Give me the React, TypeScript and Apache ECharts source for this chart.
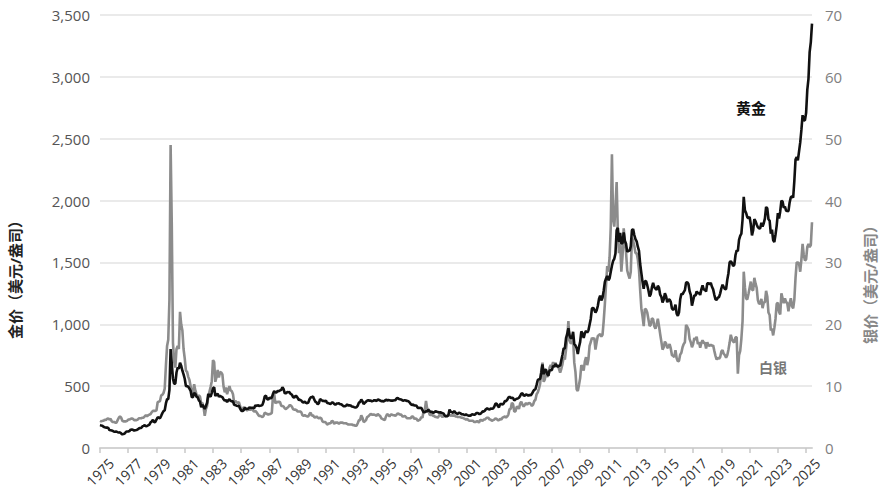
import React, { useEffect, useRef } from "react";
import * as echarts from "echarts";

// Monthly values starting Jan 1975 (USD per ounce)
const startYear = 1975;
const goldMonthly: number[] = [
  // 1975
  185, 182, 180, 172, 168, 165, 165, 162, 145, 143, 141, 138,
  // 1976
  131, 132, 132, 128, 126, 125, 118, 110, 114, 117, 130, 134,
  // 1977
  133, 137, 148, 149, 147, 141, 144, 145, 150, 158, 162, 162,
  // 1978
  174, 179, 185, 176, 178, 184, 189, 207, 214, 229, 208, 210,
  // 1979
  230, 248, 244, 241, 260, 282, 298, 305, 360, 395, 395, 470,
  // 1980
  800, 680, 560, 520, 520, 610, 650, 640, 690, 665, 625, 595,
  // 1981
  560, 500, 500, 495, 480, 462, 410, 412, 445, 438, 414, 410,
  // 1982
  385, 374, 330, 350, 334, 315, 340, 366, 437, 422, 415, 446,
  // 1983
  482, 492, 420, 432, 438, 413, 422, 416, 411, 394, 382, 388,
  // 1984
  371, 386, 394, 381, 377, 378, 348, 348, 341, 340, 341, 320,
  // 1985
  303, 299, 304, 325, 316, 317, 317, 330, 323, 326, 325, 321,
  // 1986
  345, 339, 346, 340, 342, 343, 348, 376, 418, 423, 395, 391,
  // 1987
  408, 401, 408, 438, 460, 450, 450, 461, 460, 465, 470, 490,
  // 1988
  477, 442, 443, 452, 451, 452, 437, 432, 413, 406, 420, 419,
  // 1989
  404, 388, 390, 384, 371, 367, 375, 365, 362, 367, 394, 409,
  // 1990
  410, 417, 393, 374, 369, 352, 362, 395, 389, 381, 381, 378,
  // 1991
  383, 364, 363, 358, 357, 367, 368, 356, 349, 359, 360, 361,
  // 1992
  354, 354, 345, 338, 337, 341, 353, 343, 345, 344, 335, 334,
  // 1993
  330, 328, 330, 342, 367, 372, 392, 378, 355, 365, 374, 383,
  // 1994
  387, 382, 384, 377, 381, 386, 385, 380, 391, 389, 384, 379,
  // 1995
  379, 377, 382, 391, 385, 387, 386, 383, 383, 383, 386, 387,
  // 1996
  400, 405, 396, 393, 392, 385, 383, 387, 383, 381, 378, 369,
  // 1997
  355, 347, 352, 344, 344, 341, 324, 324, 323, 325, 306, 289,
  // 1998
  289, 297, 296, 308, 299, 292, 293, 284, 289, 296, 294, 291,
  // 1999
  287, 288, 286, 282, 277, 262, 256, 257, 265, 311, 293, 290,
  // 2000
  284, 300, 286, 280, 275, 286, 282, 274, 273, 270, 266, 272,
  // 2001
  266, 262, 263, 261, 272, 270, 268, 273, 283, 283, 276, 276,
  // 2002
  282, 296, 294, 302, 314, 322, 314, 310, 319, 317, 319, 333,
  // 2003
  357, 359, 340, 329, 355, 356, 351, 360, 379, 379, 389, 407,
  // 2004
  414, 405, 406, 404, 384, 392, 398, 400, 406, 420, 439, 442,
  // 2005
  424, 423, 434, 429, 422, 431, 424, 438, 456, 470, 476, 510,
  // 2006
  550, 555, 557, 610, 676, 596, 633, 632, 598, 585, 627, 629,
  // 2007
  631, 665, 655, 679, 667, 655, 665, 665, 712, 754, 806, 803,
  // 2008
  889, 922, 968, 909, 888, 889, 939, 839, 829, 806, 760, 816,
  // 2009
  858, 943, 924, 890, 928, 946, 934, 949, 996, 1043, 1127, 1134,
  // 2010
  1118, 1095, 1113, 1148, 1205, 1232, 1193, 1215, 1271, 1343, 1370, 1391,
  // 2011
  1356, 1372, 1424, 1474, 1512, 1529, 1572, 1759, 1780, 1665, 1739, 1652,
  // 2012
  1656, 1742, 1673, 1650, 1585, 1596, 1594, 1630, 1760, 1770, 1721, 1688,
  // 2013
  1671, 1627, 1593, 1487, 1414, 1343, 1286, 1347, 1349, 1316, 1275, 1225,
  // 2014
  1244, 1300, 1336, 1299, 1287, 1279, 1311, 1296, 1239, 1222, 1176, 1200,
  // 2015
  1251, 1227, 1178, 1198, 1199, 1181, 1128, 1117, 1125, 1159, 1086, 1068,
  // 2016
  1097, 1200, 1246, 1242, 1260, 1276, 1337, 1341, 1326, 1267, 1238, 1151,
  // 2017
  1192, 1234, 1231, 1266, 1246, 1260, 1236, 1283, 1315, 1280, 1282, 1265,
  // 2018
  1331, 1331, 1325, 1335, 1303, 1282, 1238, 1202, 1198, 1215, 1220, 1250,
  // 2019
  1291, 1320, 1300, 1285, 1284, 1359, 1413, 1500, 1510, 1495, 1471, 1480,
  // 2020
  1560, 1597, 1591, 1683, 1715, 1732, 1847, 2030, 1921, 1900, 1866, 1858,
  // 2021
  1867, 1808, 1718, 1760, 1850, 1834, 1807, 1785, 1775, 1777, 1820, 1790,
  // 2022
  1817, 1856, 1948, 1937, 1849, 1837, 1732, 1764, 1681, 1664, 1726, 1798,
  // 2023
  1898, 1855, 1912, 1999, 1992, 1942, 1951, 1918, 1916, 1915, 1985, 2027,
  // 2024
  2034, 2023, 2159, 2331, 2351, 2326, 2398, 2470, 2571, 2690, 2650, 2648,
  // 2025
  2709, 2895, 2983, 3200, 3280, 3430,
];

const silverMonthly: number[] = [
  // 1975
  4.4, 4.3, 4.4, 4.4, 4.6, 4.5, 4.7, 4.8, 4.6, 4.7, 4.3, 4.2,
  // 1976
  4.2, 4.1, 4.1, 4.5, 4.9, 5.1, 4.9, 4.4, 4.3, 4.3, 4.3, 4.4,
  // 1977
  4.6, 4.6, 4.7, 4.8, 4.7, 4.5, 4.5, 4.5, 4.6, 4.8, 4.8, 4.8,
  // 1978
  4.9, 4.9, 5.1, 5.3, 5.1, 5.3, 5.4, 5.5, 5.8, 6.0, 6.0, 6.0,
  // 1979
  6.1, 7.4, 7.5, 7.6, 8.5, 8.6, 8.9, 9.6, 13.3, 16.5, 17.5, 24.0,
  // 1980
  49.0, 36.0, 17.0, 14.0, 13.0, 16.0, 16.5, 16.0, 22.0, 20.0, 19.0, 16.0,
  // 1981
  14.5, 12.5, 12.3, 11.5, 11.0, 10.0, 8.6, 9.0, 10.3, 9.3, 8.7, 8.3,
  // 1982
  8.5, 8.3, 7.2, 7.3, 6.6, 5.2, 6.3, 6.8, 8.3, 9.1, 9.9, 10.8,
  // 1983
  14.2, 13.9, 10.7, 11.5, 12.6, 11.4, 12.3, 12.2, 11.9, 9.9, 9.0, 9.8,
  // 1984
  8.7, 9.4, 10.0, 9.3, 9.2, 8.7, 7.3, 7.6, 7.4, 7.3, 7.4, 6.8,
  // 1985
  6.2, 5.9, 6.6, 6.5, 6.2, 6.1, 6.2, 6.2, 6.2, 6.3, 6.1, 5.9,
  // 1986
  6.0, 5.8, 5.5, 5.2, 5.2, 5.1, 5.0, 5.2, 5.7, 5.6, 5.5, 5.4,
  // 1987
  5.5, 5.5, 5.7, 8.5, 8.8, 7.2, 7.5, 7.4, 7.5, 7.4, 6.8, 6.8,
  // 1988
  6.7, 6.4, 6.3, 6.5, 6.6, 6.9, 6.9, 6.7, 6.3, 6.2, 6.2, 6.1,
  // 1989
  5.9, 5.9, 5.9, 5.8, 5.3, 5.2, 5.3, 5.2, 5.1, 5.1, 5.5, 5.7,
  // 1990
  5.2, 5.3, 5.0, 4.9, 5.1, 4.9, 4.8, 4.9, 4.8, 4.3, 4.2, 4.2,
  // 1991
  4.1, 3.8, 3.9, 4.0, 4.0, 4.4, 4.3, 3.9, 4.1, 4.1, 4.1, 3.9,
  // 1992
  4.1, 4.1, 4.1, 4.0, 4.0, 4.0, 3.9, 3.8, 3.8, 3.8, 3.8, 3.7,
  // 1993
  3.7, 3.6, 3.6, 4.0, 4.5, 4.5, 5.3, 4.9, 4.2, 4.3, 4.5, 5.0,
  // 1994
  5.1, 5.3, 5.5, 5.4, 5.4, 5.4, 5.3, 5.2, 5.5, 5.3, 5.2, 4.8,
  // 1995
  4.7, 4.6, 4.5, 5.1, 5.5, 5.3, 5.1, 5.4, 5.4, 5.3, 5.3, 5.2,
  // 1996
  5.4, 5.6, 5.5, 5.4, 5.4, 5.1, 5.1, 5.2, 5.0, 4.8, 4.8, 4.8,
  // 1997
  4.8, 5.1, 5.1, 4.7, 4.8, 4.7, 4.4, 4.5, 4.6, 5.0, 4.9, 6.0,
  // 1998
  6.1, 7.6, 6.3, 6.3, 5.4, 5.3, 5.5, 5.2, 5.2, 5.0, 5.0, 4.9,
  // 1999
  5.2, 5.5, 5.2, 5.0, 5.2, 5.1, 5.2, 5.2, 5.3, 5.4, 5.2, 5.3,
  // 2000
  5.2, 5.3, 5.1, 5.1, 5.0, 5.0, 5.0, 4.9, 4.9, 4.8, 4.7, 4.6,
  // 2001
  4.7, 4.5, 4.4, 4.4, 4.4, 4.4, 4.2, 4.2, 4.3, 4.3, 4.1, 4.5,
  // 2002
  4.5, 4.4, 4.6, 4.6, 4.8, 4.9, 4.9, 4.6, 4.6, 4.4, 4.5, 4.6,
  // 2003
  4.8, 4.7, 4.5, 4.5, 4.7, 4.6, 4.9, 5.0, 5.1, 4.9, 5.1, 5.4,
  // 2004
  6.3, 6.3, 7.3, 7.1, 5.9, 5.9, 6.6, 6.7, 6.3, 7.2, 7.5, 7.0,
  // 2005
  6.7, 7.0, 7.3, 7.0, 7.2, 7.3, 7.1, 6.8, 7.0, 7.6, 7.8, 8.7,
  // 2006
  9.0, 9.6, 10.4, 12.6, 13.8, 10.7, 11.1, 12.3, 11.5, 11.8, 13.0, 13.4,
  // 2007
  13.2, 13.9, 13.3, 13.8, 13.3, 13.3, 12.8, 12.2, 12.8, 13.6, 14.7, 14.3,
  // 2008
  15.9, 17.6, 20.5, 17.4, 16.9, 17.0, 17.7, 13.8, 12.3, 9.5, 9.2, 10.2,
  // 2009
  11.3, 13.4, 13.1, 12.5, 14.0, 14.7, 13.4, 14.3, 16.5, 17.1, 17.8, 17.6,
  // 2010
  17.8, 15.9, 17.1, 18.1, 18.3, 18.4, 18.0, 18.3, 20.5, 23.3, 26.4, 29.4,
  // 2011
  28.5, 30.8, 35.7, 47.5, 37.0, 35.8, 39.0, 43.0, 35.0, 31.5, 33.0, 28.5,
  // 2012
  31.0, 35.5, 33.5, 31.6, 28.7, 28.0, 27.4, 28.5, 34.0, 33.5, 32.7, 31.5,
  // 2013
  31.5, 30.5, 28.8, 25.5, 22.6, 21.3, 19.7, 22.5, 22.4, 21.9, 20.8, 19.7,
  // 2014
  19.9, 21.0, 20.8, 19.7, 19.3, 20.0, 20.9, 19.7, 18.4, 17.2, 15.9, 16.3,
  // 2015
  17.2, 16.9, 16.2, 16.3, 16.8, 16.1, 15.0, 14.9, 14.7, 15.8, 14.5, 14.0,
  // 2016
  14.1, 15.1, 15.4, 16.3, 16.8, 17.1, 19.9, 19.6, 19.2, 17.6, 17.1, 16.3,
  // 2017
  16.8, 17.8, 17.5, 18.0, 16.8, 17.1, 16.2, 17.0, 17.4, 17.0, 17.0, 16.1,
  // 2018
  17.1, 16.6, 16.5, 16.7, 16.5, 16.6, 15.7, 14.9, 14.3, 14.6, 14.4, 14.7,
  // 2019
  15.6, 15.8, 15.2, 15.0, 14.6, 15.0, 15.9, 17.0, 18.3, 17.6, 17.2, 17.1,
  // 2020
  17.9, 17.9, 12.0, 15.0, 15.7, 17.7, 20.5, 28.5, 26.0, 24.2, 24.0, 24.9,
  // 2021
  25.9, 26.9, 25.6, 25.5, 27.5, 26.6, 25.9, 23.9, 23.3, 23.4, 24.1, 22.6,
  // 2022
  23.5, 23.6, 25.4, 24.5, 21.9, 21.5, 19.0, 19.3, 18.2, 19.4, 20.9, 23.3,
  // 2023
  23.5, 22.0, 21.6, 25.0, 24.2, 23.4, 24.2, 23.6, 23.4, 22.1, 23.4, 24.2,
  // 2024
  22.9, 22.6, 24.0, 27.5, 30.0, 30.0, 29.8, 28.5, 30.5, 33.0, 31.2, 30.3,
  // 2025
  30.5, 32.5, 33.0, 32.5, 32.8, 36.5,
];

const xTickOffsets: number[] = [0, 2, 4, 6, 8, 10, 12, 14, 16, 18, 20, 22, 24, 26, 28, 30, 32, 34, 36, 38, 40, 42, 44, 46, 48, 50];
const goldAxisMax = 3500;
const goldAxisStep = 500;
const silverAxisMax = 70;
const silverAxisStep = 10;

const leftTitle = "金价（美元/盎司）";
const rightTitle = "银价（美元/盎司）";
const goldLabel = "黄金";
const silverLabel = "白银";

const FONT = "'Open Sans', 'Noto Sans CJK SC', sans-serif";

export default function App() {
  const ref = useRef<HTMLDivElement>(null);

  useEffect(() => {
    if (!ref.current) return;
    const chart = echarts.init(ref.current, undefined, { renderer: "svg" });
    const goldData = goldMonthly.map((v, i) => [i / 12, v]);
    const silverData = silverMonthly.map((v, i) => [i / 12, v]);
    const xMax = (goldMonthly.length - 1) / 12;

    chart.setOption({
      animation: false,
      backgroundColor: "#fff",
      grid: { left: 100, right: 76, top: 15, bottom: 48, containLabel: false },
      xAxis: {
        type: "value",
        min: 0,
        max: xMax,
        interval: 2,
        splitLine: { show: false },
        axisLine: { show: true, lineStyle: { color: "#d3d3d3", width: 2 } },
        axisTick: {
          show: true,
          length: 5,
          lineStyle: { color: "#c8c8c8", width: 1.5 },
          customValues: xTickOffsets,
        },
        axisLabel: {
          rotate: 45,
          align: "center",
          verticalAlign: "middle",
          color: "#333",
          fontSize: 14,
          fontWeight: 500,
          fontFamily: FONT,
          margin: 24,
          customValues: xTickOffsets,
          formatter: (v: number) => String(startYear + Math.round(v)),
        },
      },
      yAxis: [
        {
          type: "value",
          min: 0,
          max: goldAxisMax,
          interval: goldAxisStep,
          axisLine: { show: false },
          axisTick: { show: false },
          splitLine: { show: true, lineStyle: { color: "#e3e3e3", width: 1.5 } },
          axisLabel: {
            color: "#555",
            fontSize: 15,
            fontFamily: FONT,
            margin: 10,
            formatter: (v: number) => v.toLocaleString("en-US"),
          },
        },
        {
          type: "value",
          min: 0,
          max: silverAxisMax,
          interval: silverAxisStep,
          position: "right",
          axisLine: { show: false },
          axisTick: { show: false },
          splitLine: { show: false },
          axisLabel: {
            color: "#808080",
            fontSize: 15,
            fontFamily: FONT,
            margin: 13,
          },
        },
      ],
      series: [
        {
          name: "白银",
          type: "line",
          yAxisIndex: 1,
          data: silverData,
          showSymbol: false,
          lineStyle: { color: "#8c8c8c", width: 2.6 },
          z: 2,
        },
        {
          name: "黄金",
          type: "line",
          yAxisIndex: 0,
          data: goldData,
          showSymbol: false,
          lineStyle: { color: "#111", width: 2.6 },
          z: 3,
        },
      ],
      graphic: [
        {
          type: "text",
          x: 15,
          y: 276,
          rotation: Math.PI / 2,
          style: {
            text: leftTitle,
            fill: "#222",
            font: `bold 15px ${FONT}`,
            align: "center",
            verticalAlign: "middle",
          },
        },
        {
          type: "text",
          x: 870,
          y: 281,
          rotation: Math.PI / 2,
          style: {
            text: rightTitle,
            fill: "#888",
            font: `bold 15px ${FONT}`,
            align: "center",
            verticalAlign: "middle",
          },
        },
        {
          type: "text",
          x: 751,
          y: 108,
          style: {
            text: goldLabel,
            fill: "#111",
            font: `bold 15px ${FONT}`,
            align: "center",
            verticalAlign: "middle",
          },
        },
        {
          type: "text",
          x: 773,
          y: 367,
          style: {
            text: silverLabel,
            fill: "#777",
            font: `bold 14px ${FONT}`,
            align: "center",
            verticalAlign: "middle",
          },
        },
      ],
    });

    return () => chart.dispose();
  }, []);

  return (
    <div
      ref={ref}
      style={{ position: "fixed", left: 0, top: 0, width: 888, height: 496 }}
    />
  );
}
